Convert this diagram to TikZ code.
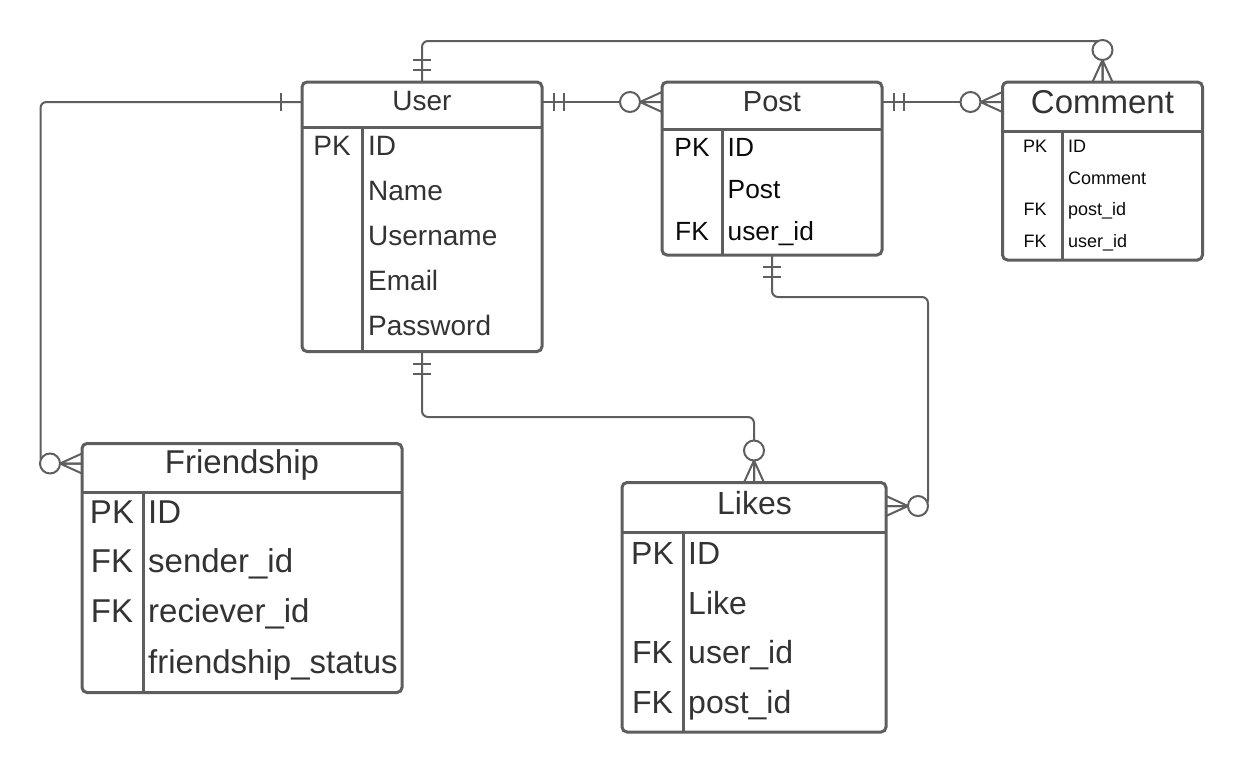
\documentclass[tikz,border=0pt]{standalone}
\usepackage{fontspec}
\setmainfont{Liberation Sans}
\usetikzlibrary{calc}
\definecolor{ln}{RGB}{94,94,94}
\definecolor{tx}{RGB}{51,51,51}
\definecolor{txd}{RGB}{10,10,10}
\tikzset{
  tbox/.style={draw=ln, line width=3pt, rounded corners=5pt, anchor=north west, inner sep=0pt, outer sep=0pt, fill=white},
  sepline/.style={draw=ln, line width=3pt},
  conn/.style={draw=ln, line width=2pt},
  lbl/.style={inner sep=0pt, text=tx, anchor=base west},
  keytxt/.style={inner sep=0pt, text=tx, anchor=base},
  ttl/.style={inner sep=0pt, text=tx, anchor=base},
  zmany/.pic={\draw[conn] (0,-10) -- (22,0) -- (0,10) (0,0) -- (22,0); \draw[conn,fill=white] (32,0) circle (10pt);},
  oneone/.pic={\draw[conn] (12,-9) -- (12,9) (22,-9) -- (22,9);},
  oneonly/.pic={\draw[conn] (21,-9) -- (21,9);},
  fUser/.style={font=\fontsize{28pt}{32pt}\selectfont},
  fPostT/.style={font=\fontsize{29pt}{32pt}\selectfont},
  fPost/.style={font=\fontsize{26.3pt}{30pt}\selectfont, text=txd},
  fComT/.style={font=\fontsize{33pt}{36pt}\selectfont},
  fCom/.style={font=\fontsize{18pt}{20pt}\selectfont, text=txd},
  fFr/.style={font=\fontsize{33pt}{36pt}\selectfont},
  fLk/.style={font=\fontsize{32pt}{36pt}\selectfont},
}
\begin{document}
\begin{tikzpicture}[x=1pt,y=-1pt]
\fill[white] (0,0) rectangle (1242,772);
\useasboundingbox (0,0) rectangle (1242,772);

% ---- tables ----
\node[tbox, minimum width=240pt, minimum height=269.5pt] (user) at (302,82) {};
\node[tbox, minimum width=220pt, minimum height=173pt] (post) at (662,82) {};
\node[tbox, minimum width=200pt, minimum height=178pt] (comment) at (1002.5,82) {};
\node[tbox, minimum width=320pt, minimum height=249pt] (friend) at (82,443.5) {};
\node[tbox, minimum width=264pt, minimum height=249.5pt] (likes) at (622,482.5) {};

% header lines and dividers
\draw[sepline] ($(user.north west)+(0,45.5)$) -- ($(user.north east)+(0,45.5)$);
\draw[sepline] ($(user.north west)+(60.5,45.5)$) -- ($(user.south west)+(60.5,0)$);
\draw[sepline] ($(post.north west)+(0,47)$) -- ($(post.north east)+(0,47)$);
\draw[sepline] ($(post.north west)+(60,47)$) -- ($(post.south west)+(60,0)$);
\draw[sepline] ($(comment.north west)+(0,49.5)$) -- ($(comment.north east)+(0,49.5)$);
\draw[sepline] ($(comment.north west)+(60,49.5)$) -- ($(comment.south west)+(60,0)$);
\draw[sepline] ($(friend.north west)+(0,48.5)$) -- ($(friend.north east)+(0,48.5)$);
\draw[sepline] ($(friend.north west)+(61.5,48.5)$) -- ($(friend.south west)+(61.5,0)$);
\draw[sepline] ($(likes.north west)+(0,50)$) -- ($(likes.north east)+(0,50)$);
\draw[sepline] ($(likes.north west)+(61.5,50)$) -- ($(likes.south west)+(61.5,0)$);

% ---- texts ----
% User
\node[ttl, fUser] (userT) at (422,110) {User};
\node[keytxt, fUser] (userK1) at (332,155) {PK};
\node[lbl, fUser] (userF1) at (368,155) {ID};
\node[lbl, fUser] (userF2) at (368,200) {Name};
\node[lbl, fUser] (userF3) at (368,245) {Username};
\node[lbl, fUser] (userF4) at (368,290) {Email};
\node[lbl, fUser] (userF5) at (368,335) {Password};
% Post
\node[ttl, fPostT] (postT) at (772,111) {Post};
\node[keytxt, fPost] (postK1) at (692,156) {PK};
\node[keytxt, fPost] (postK3) at (692,240) {FK};
\node[lbl, fPost] (postF1) at (727.5,156) {ID};
\node[lbl, fPost] (postF2) at (727.5,198) {Post};
\node[lbl, fPost] (postF3) at (727.5,240) {user\_id};
% Comment
\node[ttl, fComT] (comT) at (1102.5,113) {Comment};
\node[keytxt, fCom] (comK1) at (1035,152) {PK};
\node[keytxt, fCom] (comK3) at (1035,215.5) {FK};
\node[keytxt, fCom] (comK4) at (1035,247) {FK};
\node[lbl, fCom] (comF1) at (1068,152) {ID};
\node[lbl, fCom] (comF2) at (1068,184) {Comment};
\node[lbl, fCom] (comF3) at (1068,215.5) {post\_id};
\node[lbl, fCom] (comF4) at (1068,247) {user\_id};
% Friendship
\node[ttl, fFr] (frT) at (242,473.5) {Friendship};
\node[keytxt, fFr] (frK1) at (112,523.3) {PK};
\node[keytxt, fFr] (frK2) at (112,572.7) {FK};
\node[keytxt, fFr] (frK3) at (112,622.7) {FK};
\node[lbl, fFr] (frF1) at (148,523.3) {ID};
\node[lbl, fFr] (frF2) at (148,572.7) {sender\_id};
\node[lbl, fFr] (frF3) at (148,622.7) {reciever\_id};
\node[lbl, fFr] (frF4) at (148,673) {friendship\_status};
% Likes
\node[ttl, fLk] (lkT) at (754.5,514) {Likes};
\node[keytxt, fLk] (lkK1) at (652.5,564) {PK};
\node[keytxt, fLk] (lkK3) at (652.5,663.5) {FK};
\node[keytxt, fLk] (lkK4) at (652.5,713.5) {FK};
\node[lbl, fLk] (lkF1) at (688,564) {ID};
\node[lbl, fLk] (lkF2) at (688,614) {Like};
\node[lbl, fLk] (lkF3) at (688,663.5) {user\_id};
\node[lbl, fLk] (lkF4) at (688,713.5) {post\_id};

% ---- connectors ----
\coordinate (uR) at ($(user.north east)+(0,20)$);
\coordinate (uL) at ($(user.north west)+(0,20)$);
\coordinate (pL) at ($(post.north west)+(0,20)$);
\coordinate (pR) at ($(post.north east)+(0,20)$);
\coordinate (cL) at ($(comment.north west)+(0,20)$);
\coordinate (fL) at ($(friend.north west)+(0,20)$);
\coordinate (lR) at ($(likes.north east)+(0,23.5)$);

\draw[conn, rounded corners=6pt] (user.north) -- ++(0,-41) -| (comment.north);
\draw[conn] (uR) -- (pL);
\draw[conn] (pR) -- (cL);
\draw[conn, rounded corners=6pt] (uL) -| ($(fL)+(-41.5,0)$) -- (fL);
\draw[conn, rounded corners=6pt] (user.south) -- ++(0,65.5) -| (likes.north);
\draw[conn, rounded corners=6pt] (post.south) -- ++(0,42) -| ($(lR)+(42,0)$) -- (lR);

% ---- markers ----
\pic[rotate=90] at (user.north) {oneone};
\pic[rotate=90] at (comment.north) {zmany};
\pic at (uR) {oneone};
\pic[rotate=180] at (pL) {zmany};
\pic at (pR) {oneone};
\pic[rotate=180] at (cL) {zmany};
\pic[rotate=180] at (uL) {oneonly};
\pic[rotate=180] at (fL) {zmany};
\pic[rotate=-90] at (user.south) {oneone};
\pic[rotate=90] at (likes.north) {zmany};
\pic[rotate=-90] at (post.south) {oneone};
\pic at (lR) {zmany};
\end{tikzpicture}
\end{document}
